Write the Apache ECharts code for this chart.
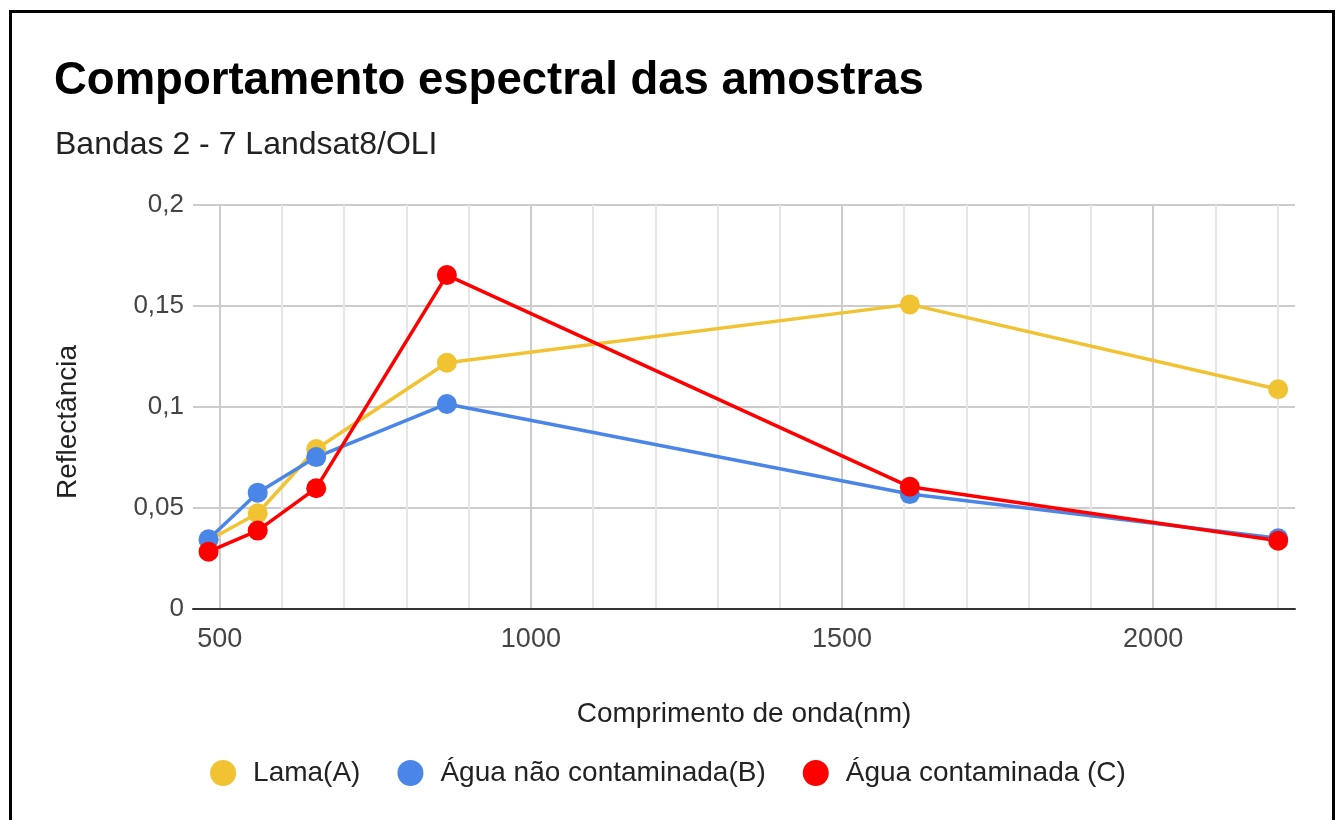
<!DOCTYPE html>
<html>
<head>
<meta charset="utf-8">
<script src="https://cdn.jsdelivr.net/npm/echarts@6/dist/echarts.min.js"></script>
<style>
  html, body { margin: 0; padding: 0; background: #fff; }
  #chart { width: 1336px; height: 820px; }
  #frame { position: absolute; left: 9px; top: 10px; width: 1320px; height: 900px;
           border: 3px solid #000; pointer-events: none; }
</style>
</head>
<body>
<div id="chart"></div>
<div id="frame"></div>
<script>
  // comprimentos de onda (nm) das bandas 2-7
  var wavelengths = [482, 561, 655, 865, 1609, 2201];
  var lama = [0.034, 0.0474, 0.0792, 0.1219, 0.1508, 0.1088];
  var aguaLimpa = [0.0345, 0.0576, 0.0752, 0.1015, 0.0569, 0.035];
  var aguaContaminada = [0.0284, 0.0388, 0.0598, 0.1653, 0.0605, 0.0338];
  var seriesNames = ['Lama(A)', 'Água não contaminada(B)', 'Água contaminada (C)'];
  var xGridValues = [500, 600, 700, 800, 900, 1000, 1100, 1200, 1300, 1400, 1500, 1600, 1700, 1800, 1900, 2000, 2100, 2200];
  var xLabelValues = [500, 1000, 1500, 2000];

  var chart = echarts.init(document.getElementById('chart'));
  var font = 'Liberation Sans, Arial, sans-serif';

  function pts(vals) {
    return wavelengths.map(function (w, i) { return [w, vals[i]]; });
  }
  function line(name, vals, color) {
    return {
      name: name, type: 'line', data: pts(vals),
      symbol: 'circle', symbolSize: 20,
      lineStyle: { width: 3.5, color: color },
      itemStyle: { color: color },
      animation: false
    };
  }

  var option = {
    backgroundColor: '#fff',
    textStyle: { fontFamily: font },
    title: [
      { text: 'Comportamento espectral das amostras', left: 49, top: 53,
        textStyle: { fontSize: 45.5, fontWeight: 'bold', color: '#000', fontFamily: font } },
      { text: 'Bandas 2 - 7 Landsat8/OLI', left: 50, top: 124,
        textStyle: { fontSize: 32, fontWeight: 'normal', color: '#222', fontFamily: font } }
    ],
    grid: { left: 193, right: 41, top: 205, bottom: 211, containLabel: false },
    legend: {
      bottom: 28, left: 'center',
      icon: 'circle', itemWidth: 26, itemHeight: 26, itemGap: 37,
      textStyle: { fontSize: 28, color: '#222', fontFamily: font, padding: [0, 0, 0, 12] },
      data: seriesNames
    },
    xAxis: {
      type: 'value', min: 457, max: 2228,
      name: 'Comprimento de onda(nm)', nameLocation: 'middle', nameGap: 91,
      nameTextStyle: { fontSize: 28, color: '#222' },
      axisLine: { show: true, lineStyle: { color: '#333', width: 2 } },
      axisTick: { show: false, customValues: xGridValues },
      axisLabel: { customValues: xLabelValues, fontSize: 27, color: '#444', margin: 17,
        formatter: function (v) { return String(v); } },
      splitLine: { show: true, lineStyle: { color: ['#cccccc', '#e6e6e6', '#e6e6e6', '#e6e6e6', '#e6e6e6'], width: 2 } }
    },
    yAxis: {
      type: 'value', min: 0, max: 0.2, interval: 0.05,
      name: 'Reflectância', nameLocation: 'middle', nameGap: 111, nameRotate: 90,
      nameTextStyle: { fontSize: 28, color: '#222', padding: [0, 30, 0, 0] },
      axisLine: { show: false },
      axisTick: { show: false },
      axisLabel: { fontSize: 26, color: '#444', margin: 9,
        formatter: function (v) { return String(v).replace('.', ','); } },
      splitLine: { lineStyle: { color: '#cccccc', width: 2 } }
    },
    series: [
      line(seriesNames[0], lama, '#f1c232'),
      line(seriesNames[1], aguaLimpa, '#4a86e8'),
      line(seriesNames[2], aguaContaminada, '#ff0000')
    ]
  };
  chart.setOption(option);
</script>
</body>
</html>
